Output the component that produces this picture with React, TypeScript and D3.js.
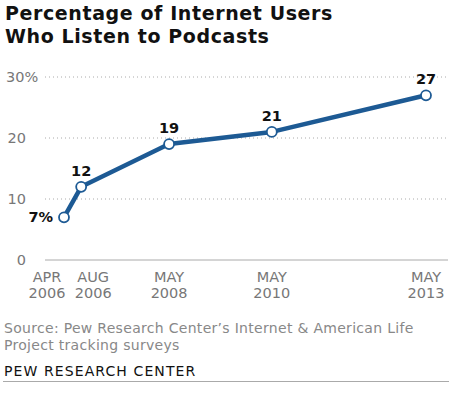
import { useEffect, useRef } from "react";
import * as d3 from "d3";

const width = 469;
const height = 395;

const surveyDates = ["2006-04-15", "2006-08-15", "2008-05-01", "2010-05-01", "2013-05-01"];
const monthLabels = ["APR", "AUG", "MAY", "MAY", "MAY"];
const yearLabels = ["2006", "2006", "2008", "2010", "2013"];
const podcastShare = [7, 12, 19, 21, 27];
const valueLabels = ["7%", "12", "19", "21", "27"];
const yTicks = [0, 10, 20, 30];
const yTickLabels = ["0", "10", "20", "30%"];

const titleLines = ["Percentage of Internet Users", "Who Listen to Podcasts"];
const sourceLines = [
  "Source: Pew Research Center\u2019s Internet & American Life",
  "Project tracking surveys",
];

export default function App() {
  const ref = useRef<SVGSVGElement>(null);

  useEffect(() => {
    const svg = d3.select(ref.current);
    svg.selectAll("*").remove();

    const font = "'DejaVu Sans', sans-serif";
    const blue = "#1d5a94";

    const x = d3
      .scaleTime()
      .domain([new Date(2006, 3, 15), new Date(2013, 4, 1)])
      .range([64, 426]);
    const y = d3.scaleLinear().domain([0, 30]).range([260, 77]);

    const data = surveyDates.map((d, i) => ({
      date: new Date(d + "T00:00:00"),
      value: podcastShare[i],
      label: valueLabels[i],
      month: monthLabels[i],
      year: yearLabels[i],
    }));

    // title
    svg
      .append("g")
      .selectAll("text")
      .data(titleLines)
      .join("text")
      .attr("x", 5)
      .attr("y", (d, i) => 20 + i * 23)
      .attr("font-family", font)
      .attr("font-weight", 700)
      .attr("font-size", 19)
      .attr("letter-spacing", 0.6)
      .attr("fill", "#111")
      .text((d) => d);

    // gridlines
    const grid = svg.append("g");
    grid
      .selectAll("line")
      .data(yTicks.filter((t) => t > 0))
      .join("line")
      .attr("x1", 45)
      .attr("x2", 448)
      .attr("y1", (d) => y(d))
      .attr("y2", (d) => y(d))
      .attr("stroke", "#aaa")
      .attr("stroke-width", 1)
      .attr("stroke-dasharray", "1,3");
    grid
      .append("line")
      .attr("x1", 45)
      .attr("x2", 448)
      .attr("y1", y(0))
      .attr("y2", y(0))
      .attr("stroke", "#aaa")
      .attr("stroke-width", 1);

    // y tick labels
    svg
      .append("g")
      .selectAll("text")
      .data(yTicks)
      .join("text")
      .attr("x", 26)
      .attr("y", (d) => y(d) + 5)
      .attr("font-family", font)
      .attr("font-size", 14.5)
      .attr("fill", "#777")
      .text((d, i) => yTickLabels[i])
      .each(function (d, i) {
        // keep the % hanging past the numbers
        if (yTickLabels[i].endsWith("%")) {
          d3.select(this).attr("text-anchor", "start").attr("x", 6);
        } else {
          d3.select(this).attr("text-anchor", "end");
        }
      });

    // x labels (first two nudged apart)
    const nudge = [-17, 12, 0, 0, 0];
    const xl = svg
      .append("g")
      .attr("font-family", font)
      .attr("font-size", 14.5)
      .attr("fill", "#777")
      .attr("text-anchor", "middle");
    data.forEach((d, i) => {
      const t = xl.append("text").attr("x", x(d.date) + nudge[i]);
      t.append("tspan").attr("y", 282).attr("x", x(d.date) + nudge[i]).text(d.month);
      t.append("tspan").attr("y", 298).attr("x", x(d.date) + nudge[i]).text(d.year);
    });

    // line
    const line = d3
      .line<(typeof data)[number]>()
      .x((d) => x(d.date))
      .y((d) => y(d.value));
    svg
      .append("path")
      .datum(data)
      .attr("d", line)
      .attr("fill", "none")
      .attr("stroke", blue)
      .attr("stroke-width", 4.5)
      .attr("stroke-linejoin", "round");

    svg
      .append("g")
      .selectAll("circle")
      .data(data)
      .join("circle")
      .attr("cx", (d) => x(d.date))
      .attr("cy", (d) => y(d.value))
      .attr("r", 5)
      .attr("fill", "#fff")
      .attr("stroke", blue)
      .attr("stroke-width", 1.8);

    // value labels
    svg
      .append("g")
      .selectAll("text")
      .data(data)
      .join("text")
      .attr("x", (d, i) => (i === 0 ? x(d.date) - 11 : x(d.date)))
      .attr("y", (d, i) => (i === 0 ? y(d.value) + 5 : y(d.value) - 11))
      .attr("text-anchor", (d, i) => (i === 0 ? "end" : "middle"))
      .attr("font-family", font)
      .attr("font-weight", 700)
      .attr("font-size", 14.5)
      .attr("fill", "#111")
      .text((d) => d.label);

    // source
    svg
      .append("g")
      .selectAll("text")
      .data(sourceLines)
      .join("text")
      .attr("x", 4)
      .attr("y", (d, i) => 333 + i * 17)
      .attr("font-family", font)
      .attr("font-size", 14)
      .attr("letter-spacing", 0.3)
      .attr("fill", "#888")
      .text((d) => d);

    svg
      .append("text")
      .attr("x", 4)
      .attr("y", 376)
      .attr("font-family", font)
      .attr("font-size", 14)
      .attr("letter-spacing", 1.1)
      .attr("fill", "#111")
      .text("PEW RESEARCH CENTER");

    svg
      .append("line")
      .attr("x1", 3)
      .attr("x2", 449)
      .attr("y1", 381.5)
      .attr("y2", 381.5)
      .attr("stroke", "#aaa")
      .attr("stroke-width", 1);
  }, []);

  return (
    <svg
      ref={ref}
      width={width}
      height={height}
      style={{ position: "absolute", left: 0, top: 0, background: "#fff" }}
    />
  );
}
